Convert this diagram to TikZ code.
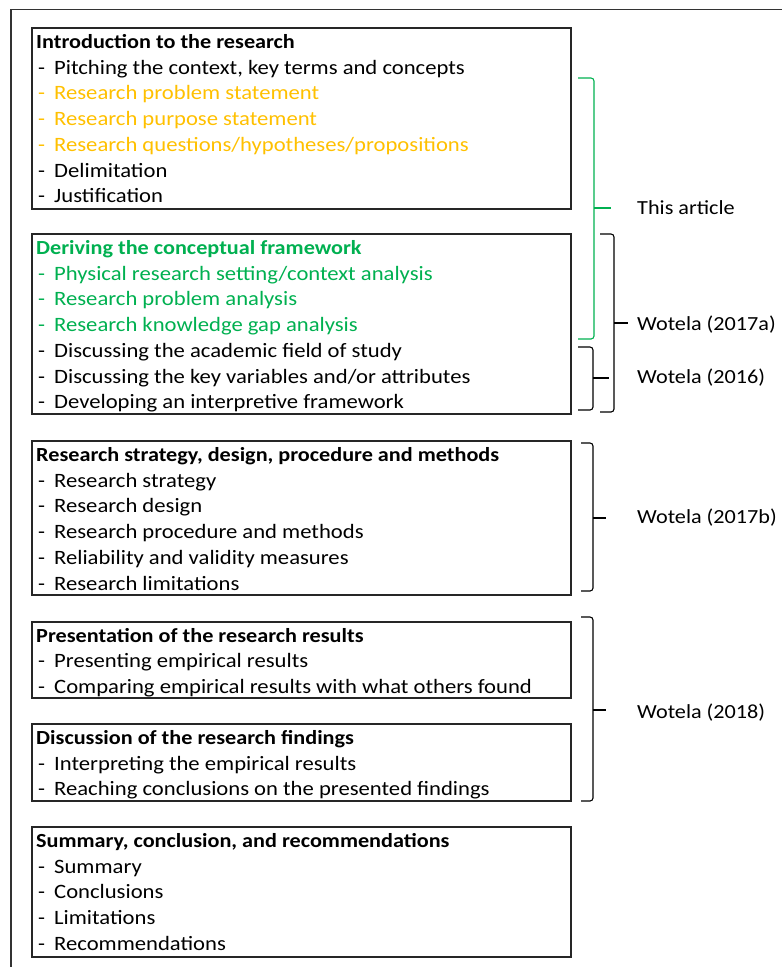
\documentclass[tikz,border=0pt]{standalone}
\usepackage{fontspec}
\setmainfont{Carlito}[FakeStretch=1.11]
\definecolor{gold}{HTML}{FFC000}
\definecolor{grn}{HTML}{00B050}
\newcommand{\dashitem}[1]{\makebox[16pt][l]{-}#1}
\begin{document}
\begin{tikzpicture}[x=1pt,y=-1pt,
  box/.style={draw=black!85, line width=1.6pt},
  ttl/.style={anchor=base west, inner sep=0pt, font=\fontsize{20}{24}\selectfont\bfseries},
  itm/.style={anchor=base west, inner sep=0pt, font=\fontsize{20.4}{24}\selectfont},
  lbl/.style={anchor=west, inner sep=0pt, font=\fontsize{20}{24}\selectfont},
  brc/.style={line width=1.1pt, rounded corners=3pt},
]
\useasboundingbox (0,0) rectangle (782,967);
% outer frame
\draw[line width=1.3pt, black!80] (11,967) -- (11,9.5) -- (782,9.5);

% boxes
\draw[box] (32,28) rectangle (571,209);
\draw[box] (32,234) rectangle (571,414);
\draw[box] (32,441) rectangle (571,595);
\draw[box] (32,622) rectangle (571,698);
\draw[box] (32,724) rectangle (571,801);
\draw[box] (32,827) rectangle (571,957);

% box 1
\node[ttl] (t1) at (36,48) {Introduction to the research};
\node[itm] (a1) at (38,74) {\dashitem{Pitching the context, key terms and concepts}};
\node[itm, text=gold] (a2) at (38,99.75) {\dashitem{Research problem statement}};
\node[itm, text=gold] (a3) at (38,125.5) {\dashitem{Research purpose statement}};
\node[itm, text=gold] (a4) at (38,151.25) {\dashitem{Research questions/hypotheses/propositions}};
\node[itm] (a5) at (38,177) {\dashitem{Delimitation}};
\node[itm] (a6) at (38,202.75) {\dashitem{Justification}};

% box 2
\node[ttl, text=grn] (t2) at (36,254) {Deriving the conceptual framework};
\node[itm, text=grn] (b1) at (38,280) {\dashitem{Physical research setting/context analysis}};
\node[itm, text=grn] (b2) at (38,305.75) {\dashitem{Research problem analysis}};
\node[itm, text=grn] (b3) at (38,331.5) {\dashitem{Research knowledge gap analysis}};
\node[itm] (b4) at (38,357.25) {\dashitem{Discussing the academic field of study}};
\node[itm] (b5) at (38,383) {\dashitem{Discussing the key variables and/or attributes}};
\node[itm] (b6) at (38,408.75) {\dashitem{Developing an interpretive framework}};

% box 3
\node[ttl] (t3) at (36,461) {Research strategy, design, procedure and methods};
\node[itm] (c1) at (38,487) {\dashitem{Research strategy}};
\node[itm] (c2) at (38,512.75) {\dashitem{Research design}};
\node[itm] (c3) at (38,538.5) {\dashitem{Research procedure and methods}};
\node[itm] (c4) at (38,564.25) {\dashitem{Reliability and validity measures}};
\node[itm] (c5) at (38,590) {\dashitem{Research limitations}};

% box 4
\node[ttl] (t4) at (36,642) {Presentation of the research results};
\node[itm] (d1) at (38,667.5) {\dashitem{Presenting empirical results}};
\node[itm] (d2) at (38,693) {\dashitem{Comparing empirical results with what others found}};

% box 5
\node[ttl] (t5) at (36,744) {Discussion of the research findings};
\node[itm] (e1) at (38,770) {\dashitem{Interpreting the empirical results}};
\node[itm] (e2) at (38,795.75) {\dashitem{Reaching conclusions on the presented findings}};

% box 6
\node[ttl] (t6) at (36,847) {Summary, conclusion, and recommendations};
\node[itm] (f1) at (38,873) {\dashitem{Summary}};
\node[itm] (f2) at (38,898.75) {\dashitem{Conclusions}};
\node[itm] (f3) at (38,924.5) {\dashitem{Limitations}};
\node[itm] (f4) at (38,950.25) {\dashitem{Recommendations}};

% braces
\draw[brc, grn] (578,78) -- (594,78) -- (594,339) -- (578,339);
\draw[line width=1.1pt, grn] (594,208) -- (611,208);
\draw[brc] (600,234) -- (614,234) -- (614,412) -- (600,412);
\draw[line width=1.1pt] (614,323) -- (628,323);
\draw[brc] (578,347) -- (593,347) -- (593,410) -- (578,410);
\draw[line width=1.1pt] (593,378) -- (609,378);
\draw[brc] (581,443) -- (593,443) -- (593,591) -- (581,591);
\draw[line width=1.1pt] (593,518) -- (606,518);
\draw[brc] (581,617) -- (593,617) -- (593,801) -- (581,801);
\draw[line width=1.1pt] (593,710) -- (606,710);

% labels
\node[lbl] (l1) at (637,208) {This article};
\node[lbl] (l2) at (637,325) {Wotela (2017a)};
\node[lbl] (l3) at (637,378) {Wotela (2016)};
\node[lbl] (l4) at (637,518) {Wotela (2017b)};
\node[lbl] (l5) at (637,713) {Wotela (2018)};
\end{tikzpicture}
\end{document}
